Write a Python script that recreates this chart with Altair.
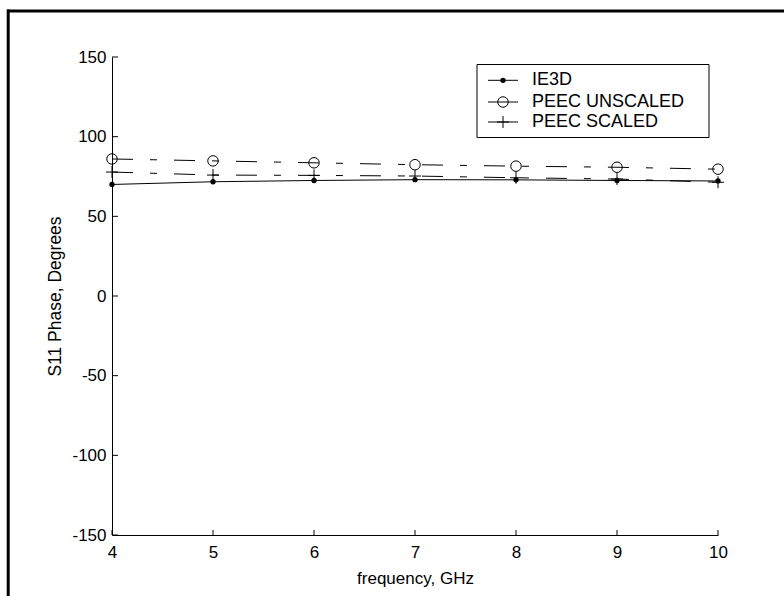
import altair as alt
import pandas as pd

# S11 phase vs frequency for three models
freq_ghz = [4, 5, 6, 7, 8, 9, 10]
ie3d = [70.0, 71.7, 72.5, 73.0, 72.9, 72.5, 72.2]
peec_unscaled = [86.0, 84.8, 83.6, 82.4, 81.5, 80.8, 79.6]
peec_scaled = [77.8, 75.9, 75.7, 75.3, 74.2, 73.4, 71.4]

series_names = ["IE3D", "PEEC UNSCALED", "PEEC SCALED"]
x_ticks = [4, 5, 6, 7, 8, 9, 10]
y_ticks = [-150, -100, -50, 0, 50, 100, 150]

FONT = "Liberation Sans"
W, H = 606, 478
LEFT, TOP = 112, 57
DASH = [21, 17, 7, 17]
PLUS = "M-1,0L1,0M0,-1L0,1"

df = pd.DataFrame({
    "freq": freq_ghz * 3,
    "phase": ie3d + peec_unscaled + peec_scaled,
    "series": [series_names[0]] * 7 + [series_names[1]] * 7 + [series_names[2]] * 7,
})

xs = alt.Scale(domain=[4, 10], nice=False, zero=False)
ys = alt.Scale(domain=[-150, 150], nice=False, zero=False)

# plain integer labels with an ASCII hyphen for negatives
plain = "'' + datum.value"

x_axis = alt.Axis(values=x_ticks, tickSize=0, labelPadding=9, labelFontSize=17,
                  labelFont=FONT, labelColor="black", domainColor="black",
                  labelExpr=plain, labelFlush=False, labelOverlap=False,
                  grid=False, title="frequency, GHz", titleFont=FONT,
                  titleFontSize=17, titleFontWeight="normal", titleColor="black",
                  titlePadding=10)
y_axis = alt.Axis(values=y_ticks, tickSize=0, labelPadding=6, labelFontSize=17,
                  labelFont=FONT, labelColor="black", domainColor="black",
                  labelExpr=plain, labelFlush=False, labelOverlap=False,
                  grid=False, title="S11 Phase,  Degrees", titleFont=FONT,
                  titleFontSize=17.5, titleFontWeight="normal", titleColor="black",
                  titlePadding=7)

base = alt.Chart(df)

axes = base.mark_point(opacity=0).encode(
    x=alt.X("freq:Q", scale=xs, axis=x_axis),
    y=alt.Y("phase:Q", scale=ys, axis=y_axis),
)

def series_line(name, dash=None):
    kw = dict(color="black", strokeWidth=1)
    if dash:
        kw["strokeDash"] = dash
    return base.transform_filter(alt.datum.series == name).mark_line(**kw).encode(
        x=alt.X("freq:Q", scale=xs), y=alt.Y("phase:Q", scale=ys))

line_ie3d = series_line(series_names[0])
line_unscaled = series_line(series_names[1], DASH)
line_scaled = series_line(series_names[2], DASH)

pts_ie3d = base.transform_filter(alt.datum.series == series_names[0]).mark_point(
    shape="circle", filled=True, color="black", size=28, opacity=1).encode(
    x=alt.X("freq:Q", scale=xs), y=alt.Y("phase:Q", scale=ys))
pts_unscaled = base.transform_filter(alt.datum.series == series_names[1]).mark_point(
    shape="circle", filled=False, color="black", size=110, strokeWidth=1, opacity=1).encode(
    x=alt.X("freq:Q", scale=xs), y=alt.Y("phase:Q", scale=ys))
pts_scaled = base.transform_filter(alt.datum.series == series_names[2]).mark_point(
    shape=PLUS, filled=False, color="black", size=144, strokeWidth=1, opacity=1).encode(
    x=alt.X("freq:Q", scale=xs), y=alt.Y("phase:Q", scale=ys))

# inward tick marks
xt = alt.Chart(pd.DataFrame({"t": x_ticks})).mark_rule(color="black", strokeWidth=1).encode(
    x=alt.X("t:Q", scale=xs), y=alt.value(H - 5), y2=alt.value(H))
yt = alt.Chart(pd.DataFrame({"t": y_ticks})).mark_rule(color="black", strokeWidth=1).encode(
    y=alt.Y("t:Q", scale=ys), x=alt.value(0), x2=alt.value(6))

# legend box
one = pd.DataFrame({"k": [0]})
bx0, by0, bx1, by1 = 365, 7.5, 597, 80.5
legend_box = alt.Chart(one).mark_rect(fill="white", stroke="black", strokeWidth=1).encode(
    x=alt.value(bx0), x2=alt.value(bx1), y=alt.value(by0), y2=alt.value(by1))

legend_layers = [legend_box]
row_y = [23.3, 45.0, 65.0]
sym_x0, sym_x1, txt_x = 376, 406, 420
marker_specs = [
    dict(shape="circle", filled=True, size=28),
    dict(shape="circle", filled=False, size=110, strokeWidth=1),
    dict(shape=PLUS, filled=False, size=144, strokeWidth=1),
]
for name, ry, mk in zip(series_names, row_y, marker_specs):
    legend_layers.append(alt.Chart(one).mark_rule(color="black", strokeWidth=1).encode(
        x=alt.value(sym_x0), x2=alt.value(sym_x1), y=alt.value(ry)))
    legend_layers.append(alt.Chart(one).mark_point(color="black", opacity=1, **mk).encode(
        x=alt.value((sym_x0 + sym_x1) / 2), y=alt.value(ry)))
    legend_layers.append(alt.Chart(one).mark_text(
        align="left", baseline="middle", font=FONT, fontSize=18, color="black").encode(
        x=alt.value(txt_x), y=alt.value(ry), text=alt.value(name)))

# outer figure frame (top and left edges)
frame_top = alt.Chart(one).mark_rule(color="black", strokeWidth=3).encode(
    x=alt.value(7 - LEFT), x2=alt.value(784 - LEFT), y=alt.value(11 - TOP))
frame_left = alt.Chart(one).mark_rule(color="black", strokeWidth=3).encode(
    x=alt.value(8.2 - LEFT), y=alt.value(9.5 - TOP), y2=alt.value(596 - TOP))

chart = alt.layer(
    axes, xt, yt,
    line_ie3d, line_unscaled, line_scaled,
    pts_ie3d, pts_unscaled, pts_scaled,
    *legend_layers,
    frame_top, frame_left,
).properties(
    width=W, height=H,
    autosize=alt.AutoSizeParams(type="none"),
    padding={"left": LEFT, "top": TOP, "right": 784 - LEFT - W, "bottom": 596 - TOP - H},
    background="white",
).configure_view(stroke=None)

chart.save("out.html", embed_options={"renderer": "svg", "actions": False})
